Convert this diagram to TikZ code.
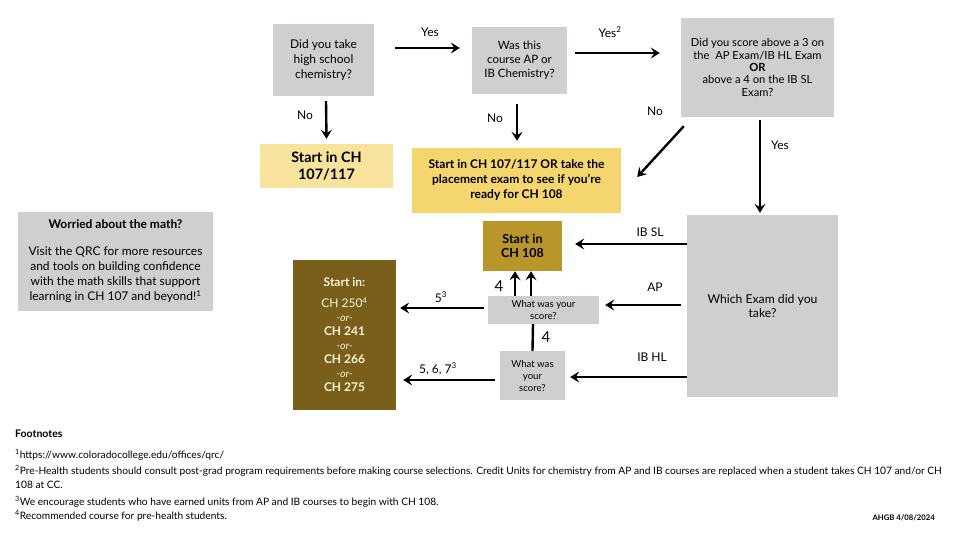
\documentclass[tikz,border=0pt]{standalone}
\usepackage{fontspec}
\setmainfont{Lato}
\usetikzlibrary{arrows.meta}

\definecolor{boxgray}{RGB}{208,206,206}
\definecolor{paleyel}{RGB}{247,227,155}
\definecolor{yel}{RGB}{245,214,110}
\definecolor{gold}{RGB}{184,150,42}
\definecolor{olive}{RGB}{122,95,26}
\definecolor{cream}{RGB}{250,242,220}

\newcommand{\fsz}[2]{\fontsize{#1}{#2}\selectfont}

\begin{document}
\begin{tikzpicture}[x=1pt,y=-1pt]
\tikzstyle{every node}+=[inner sep=0pt, align=center]
\tikzstyle{qbox}=[fill=boxgray]
\tikzstyle{arr}=[line width=2.4pt, -{Stealth[length=9pt,width=11pt,inset=3.5pt]}]
\tikzstyle{lbl}=[font=\fsz{12}{14}]
\useasboundingbox [fill=white] (0,0) rectangle (960,540);
% questions
\node [qbox, minimum width=101, minimum height=72, font=\fsz{12}{15}] (hs) at (323.5,60) {Did you take\\high school\\chemistry?};
\node [qbox, minimum width=95, minimum height=67, font=\fsz{11.5}{14}] (apib) at (519.5,60.5) {Was this\\course AP or\\IB Chemistry?};
\node [qbox, minimum width=153, minimum height=99, font=\fsz{11.2}{12.3}] (above) at (757.5,67.5) {Did you score above a 3 on\\the\ \ AP Exam/IB HL Exam\\\textbf{OR}\\above a 4 on the IB SL\\Exam?};
\node [qbox, minimum width=151, minimum height=182, font=\fsz{12.2}{14}] (exam) at (762.5,306) {Which Exam did you\\take?};
\node [qbox, minimum width=111, minimum height=28, font=\fsz{9.6}{12}] (score1) at (543.5,310) {What was your\\score?};
\node [qbox, minimum width=65, minimum height=49, font=\fsz{9.6}{12}] (score2) at (532.5,375.5) {What was\\your\\score?};
% results
\node [fill=paleyel, minimum width=133, minimum height=44, font=\fsz{14.4}{17}\bfseries] (start107) at (326.5,166) {Start in CH\\107/117};
\node [fill=yel, minimum width=209, minimum height=65, font=\fsz{12}{15}\bfseries] (place) at (516.5,180.5) {Start in CH 107/117 OR take the\\placement exam to see if you’re\\ready for CH 108};
\node [fill=gold, minimum width=79, minimum height=50, font=\fsz{12.5}{14}\bfseries] (start108) at (522.5,246) {Start in\\CH 108};
\node [fill=olive, text=cream, minimum width=103, minimum height=150, font=\fsz{12}{14}] (upper) at (344.5,335) {\textbf{Start in:}\\[7pt]CH 250\textsuperscript{4}\\{\itshape\fsz{10.5}{14}-or-}\\\textbf{CH 241}\\{\itshape\fsz{10.5}{14}-or-}\\\textbf{CH 266}\\{\itshape\fsz{10.5}{14}-or-}\\\textbf{CH 275}};
\node [qbox, minimum width=195, minimum height=99, font=\fsz{12}{15}] (math) at (115.5,261.5) {\textbf{Worried about the math?}\\[12pt]Visit the QRC for more resources\\and tools on building confidence\\with the math skills that support\\learning in CH 107 and beyond!\textsuperscript{1}};
% arrows
\draw [arr] ([xshift=21pt,yshift=12pt]hs.east) -- ([xshift=-12pt,yshift=12.5pt]apib.west);
\draw (430,32) node [lbl] {Yes};
\draw [arr] ([xshift=8pt,yshift=7.5pt]apib.east) -- ([xshift=-21pt,yshift=14.5pt]above.west);
\draw (610,32) node [lbl] {Yes\textsuperscript{2}};
\draw [arr] ([xshift=3pt,yshift=-9pt]above.south west) -- ([xshift=16pt,yshift=3.5pt]place.east);
\draw (655,111) node [lbl] {No};
\draw [arr] ([xshift=2.5pt,yshift=-5pt]hs.south) -- ([yshift=5pt]start107.north);
\draw (305,115) node [lbl] {No};
\draw [arr] ([xshift=-2.5pt,yshift=-10pt]apib.south) -- ([xshift=0.5pt,yshift=7pt]place.north);
\draw (495,118) node [lbl] {No};
\draw [arr] ([xshift=2.5pt,yshift=-3pt]above.south) -- ([xshift=-2.5pt,yshift=2pt]exam.north);
\draw (780,145) node [lbl] {Yes};
\draw [arr] ([yshift=62pt]exam.west) -- ([xshift=13pt,yshift=2pt]start108.east);
\draw (650,232) node [lbl] {IB SL};
\draw [arr] ([xshift=-6pt,yshift=1pt]exam.west) -- ([xshift=6pt,yshift=5pt]score1.east);
\draw (655,287) node [lbl] {AP};
\draw [arr] ([yshift=-71pt]exam.west) -- ([xshift=5pt,yshift=-1.5pt]score2.east);
\draw (652,357) node [lbl] {IB HL};
\draw [arr] ([xshift=-28.5pt]score1.north) -- ([xshift=-7.5pt]start108.south);
\draw [arr] ([xshift=-12.5pt]score1.north) -- ([xshift=8.5pt]start108.south);
\draw (499,286) node [font=\fsz{15}{16}] {4};
\draw [line width=2.4pt] (score2.north) -- ([xshift=-10.5pt]score1.south);
\draw (546,337) node [font=\fsz{15}{16}] {4};
\draw [arr] ([xshift=-4pt,yshift=2pt]score1.west) -- ([xshift=4pt,yshift=27pt]upper.east);
\draw (441,297) node [lbl] {5\textsuperscript{3}};
\draw [arr] ([xshift=-5pt,yshift=-4.5pt]score2.west) -- ([xshift=7pt,yshift=-45pt]upper.east);
\draw (438,369) node [lbl] {5, 6, 7\textsuperscript{3}};
% footnotes
\node [anchor=west, font=\fsz{10.5}{12}\bfseries] (fnhead) at (15,434) {Footnotes};
\node [anchor=west, font=\fsz{10.2}{14}] (fn1) at (15,455) {\textsuperscript{1}https://www.coloradocollege.edu/offices/qrc/};
\node [anchor=north west, align=left, font=\fsz{10.2}{14}] (fn2) at (15,465) {\textsuperscript{2}Pre-Health students should consult post-grad program requirements before making course selections. Credit Units for chemistry from AP and IB courses are replaced when a student takes CH 107 and/or CH\\108 at CC.};
\node [anchor=west, font=\fsz{10.2}{14}] (fn3) at (15,502) {\textsuperscript{3}We encourage students who have earned units from AP and IB courses to begin with CH 108.};
\node [anchor=west, font=\fsz{10.2}{14}] (fn4) at (15,516) {\textsuperscript{4}Recommended course for pre-health students.};
\node [anchor=east, font=\fsz{7.7}{9}\bfseries] (stamp) at (935,518) {AHGB 4/08/2024};
\end{tikzpicture}
\end{document}
